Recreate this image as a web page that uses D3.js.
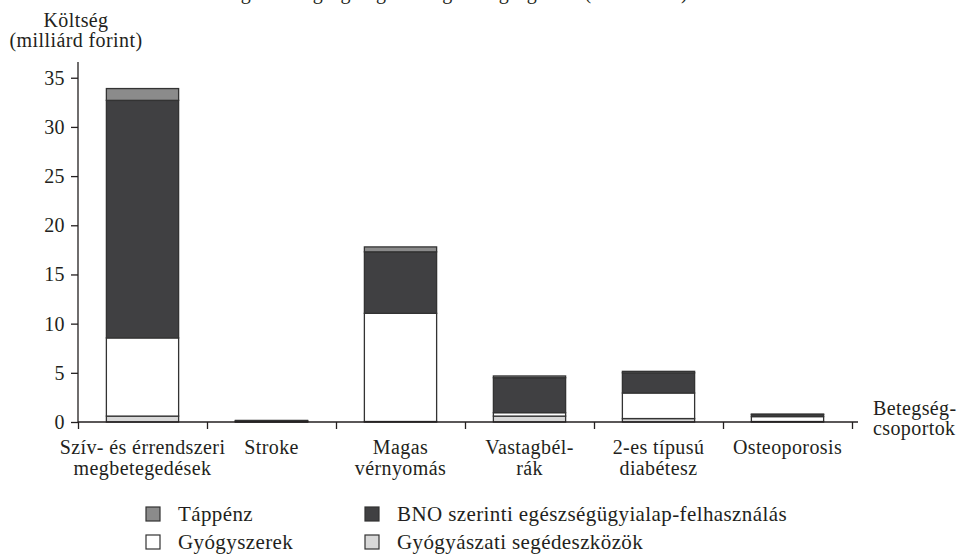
<!DOCTYPE html>
<html>
<head>
<meta charset="utf-8">
<script src="https://cdn.jsdelivr.net/npm/d3@7"></script>
<style>
  body { margin: 0; background: #fff; }
</style>
</head>
<body>
<div id="chart"></div>
<script>
// Categories (two-line labels)
const categories = ["Szív- és érrendszeri megbetegedések", "Stroke", "Magas vérnyomás",
                    "Vastagbélrák", "2-es típusú diabétesz", "Osteoporosis"];
const labelLines = [["Szív- és érrendszeri", "megbetegedések"], ["Stroke"], ["Magas", "vérnyomás"],
                    ["Vastagbél-", "rák"], ["2-es típusú", "diabétesz"], ["Osteoporosis"]];

// Series values (milliárd forint), bottom to top
const segedeszkozok = [0.6, 0.02, 0.05, 0.6, 0.35, 0.05];
const gyogyszerek   = [7.95, 0.02, 11.0, 0.35, 2.6, 0.5];
const bno           = [24.15, 0.1, 6.25, 3.55, 2.05, 0.22];
const tappenz       = [1.2, 0.02, 0.5, 0.18, 0.15, 0.03];

const yTicks = [0, 5, 10, 15, 20, 25, 30, 35];

const seriesKeys = ["seged", "gyogy", "bno", "tapp"];
const colors = { seged: "#d8d8d8", gyogy: "#ffffff", bno: "#404042", tapp: "#8b8b8b" };

const FONT = '"Liberation Serif"';
const INK = "#231f20";

const table = categories.map((c, i) => ({
    cat: c,
    seged: segedeszkozok[i],
    gyogy: gyogyszerek[i],
    bno: bno[i],
    tapp: tappenz[i]
}));

const width = 964, height = 559;
const svg = d3.select("#chart").append("svg")
    .attr("width", width)
    .attr("height", height);

// Scales
const x = d3.scaleBand()
    .domain(categories)
    .range([78, 852])
    .paddingInner(0.44)
    .paddingOuter(0.22);

const y = d3.scaleLinear()
    .domain([0, 36.6])
    .range([422, 62]);

function txt(sel, size) {
    return sel.attr("font-family", null)
        .style("font-family", FONT)
        .style("font-size", size + "px")
        .style("letter-spacing", "0.4px")
        .attr("fill", INK);
}

// Title (only its lower edge shows at the top of the picture, as in the original)
txt(svg.append("text"), 20)
    .attr("x", 688)
    .attr("y", -1)
    .attr("text-anchor", "end")
    .text("A vizsgált betegségek gazdasági betegségterhe (milliárd Ft)");

// Stacked bars
const stacked = d3.stack().keys(seriesKeys)(table);

svg.append("g")
    .selectAll("g")
    .data(stacked)
    .join("g")
    .attr("fill", d => colors[d.key])
    .selectAll("rect")
    .data(d => d)
    .join("rect")
    .attr("x", d => x(d.data.cat))
    .attr("width", x.bandwidth())
    .attr("y", d => y(d[1]))
    .attr("height", d => y(d[0]) - y(d[1]))
    .attr("stroke", "#333")
    .attr("stroke-width", 1.3);

// Y axis
const yAxis = svg.append("g")
    .attr("transform", "translate(78,0)")
    .call(d3.axisLeft(y).tickValues(yTicks).tickSize(7).tickPadding(6));
yAxis.attr("font-family", null);
yAxis.select(".domain").attr("d", `M0,${y(0)}V${y.range()[1]}`).attr("stroke", INK).attr("stroke-width", 1.3);
yAxis.selectAll(".tick line").attr("stroke", INK).attr("stroke-width", 1.3);
txt(yAxis.selectAll(".tick text"), 20);

// X axis: ticks at band boundaries
const xb = d3.scaleLinear().domain([0, categories.length]).range(x.range());
const xAxis = svg.append("g")
    .attr("transform", `translate(0,${y(0)})`)
    .call(d3.axisBottom(xb).tickValues(d3.range(categories.length + 1)).tickSize(7).tickFormat(""));
xAxis.select(".domain").attr("d", `M${x.range()[0]},0H858`).attr("stroke", INK).attr("stroke-width", 1.3);
xAxis.selectAll(".tick line").attr("stroke", INK).attr("stroke-width", 1.3);

// Category labels
const labels = svg.append("g");
categories.forEach((c, i) => {
    const cx = x(c) + x.bandwidth() / 2;
    const t = txt(labels.append("text"), 20)
        .attr("x", cx)
        .attr("y", 454)
        .attr("text-anchor", "middle");
    labelLines[i].forEach((line, j) => {
        t.append("tspan")
            .attr("x", cx)
            .attr("dy", j === 0 ? 0 : 21)
            .text(line);
    });
});

// Axis titles
const yTitle = txt(svg.append("text"), 20)
    .attr("x", 76)
    .attr("y", 27)
    .attr("text-anchor", "middle");
yTitle.append("tspan").attr("x", 76).attr("dy", 0).text("Költség");
yTitle.append("tspan").attr("x", 76).attr("dy", 20).text("(milliárd forint)");

const xTitle = txt(svg.append("text"), 20)
    .attr("x", 873)
    .attr("y", 415);
xTitle.append("tspan").attr("x", 873).attr("dy", 0).text("Betegség-");
xTitle.append("tspan").attr("x", 873).attr("dy", 20).text("csoportok");

// Legend
const legendItems = [
    { key: "tapp", label: "Táppénz", col: 0, row: 0 },
    { key: "bno", label: "BNO szerinti egészségügyialap-felhasználás", col: 1, row: 0 },
    { key: "gyogy", label: "Gyógyszerek", col: 0, row: 1 },
    { key: "seged", label: "Gyógyászati segédeszközök", col: 1, row: 1 }
];
const legend = svg.append("g");
legendItems.forEach(item => {
    const lx = item.col === 0 ? 146 : 365;
    const base = 521 + item.row * 28;
    legend.append("rect")
        .attr("x", lx)
        .attr("y", base - 14)
        .attr("width", 14)
        .attr("height", 14)
        .attr("fill", colors[item.key])
        .attr("stroke", "#333")
        .attr("stroke-width", 1.2);
    txt(legend.append("text"), 21)
        .attr("x", lx + 32)
        .attr("y", base)
        .text(item.label);
});
</script>
</body>
</html>
